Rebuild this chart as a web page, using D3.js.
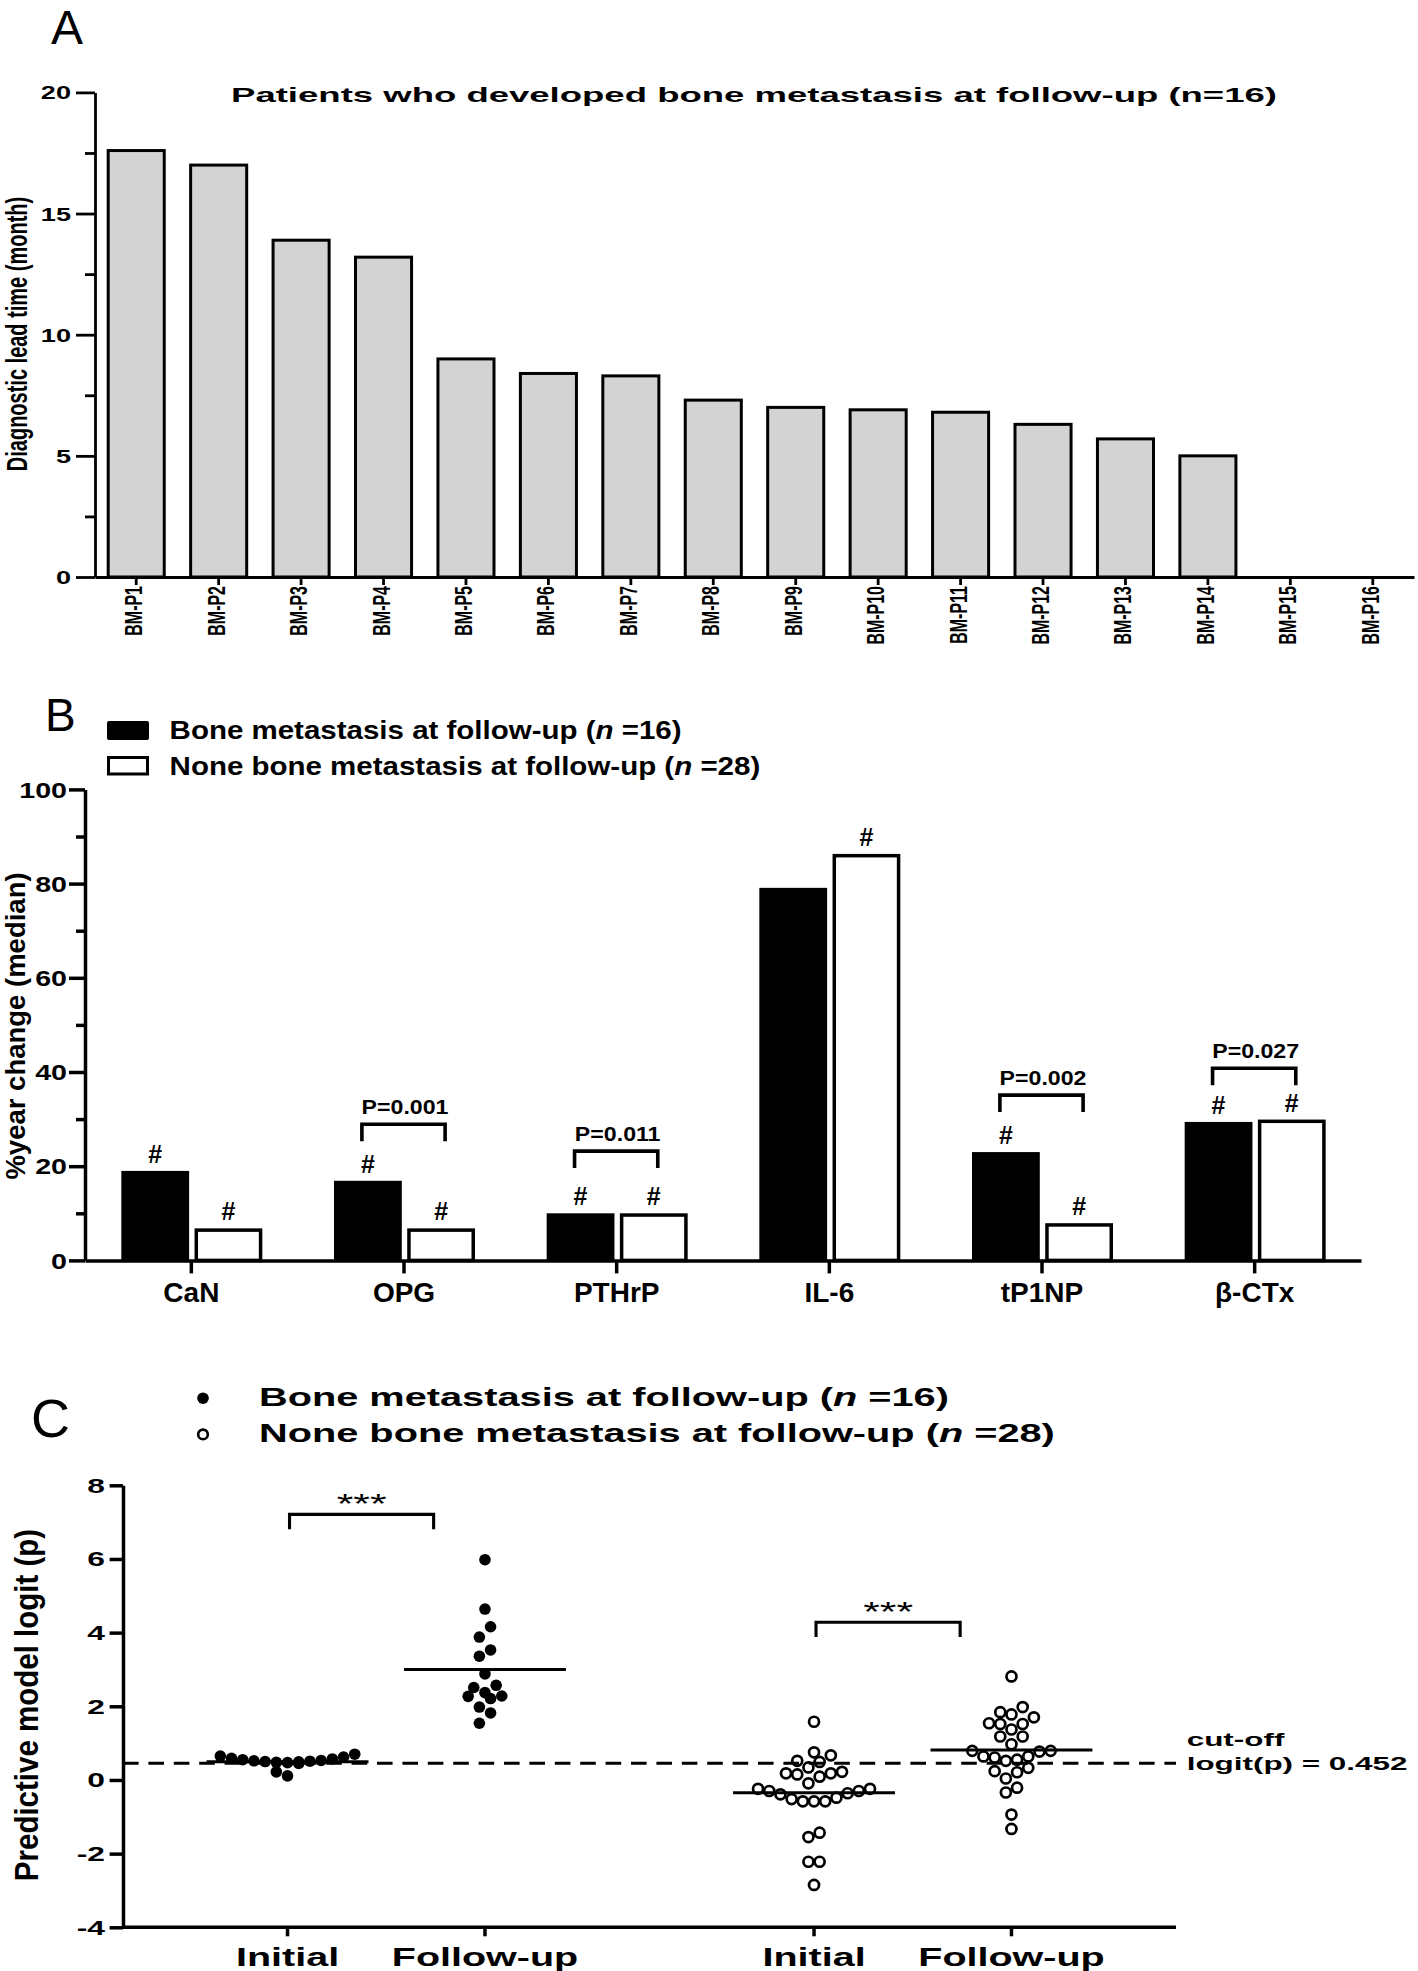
<!DOCTYPE html>
<html>
<head>
<meta charset="utf-8">
<script src="https://cdn.jsdelivr.net/npm/d3@7"></script>
<style>
  body { margin: 0; background: #fff; }
  svg { display: block; background: #fff; }
  text { font-family: 'Liberation Sans', Arial, Helvetica, sans-serif; fill: #000; }
</style>
</head>
<body>
<svg id="fig" width="1418" height="1971"></svg>
<script>
// ---- panel A: diagnostic lead time per patient
const patients = ['BM-P1','BM-P2','BM-P3','BM-P4','BM-P5','BM-P6','BM-P7','BM-P8',
                  'BM-P9','BM-P10','BM-P11','BM-P12','BM-P13','BM-P14','BM-P15','BM-P16']
const leadTime = [17.6, 17.0, 13.9, 13.2, 9.0, 8.4, 8.3, 7.3, 7.0, 6.9, 6.8, 6.3, 5.7, 5.0, 0, 0]
const leadTicks = [0, 5, 10, 15, 20]

// ---- panel B: %year change (median)
const markers = ['CaN', 'OPG', 'PTHrP', 'IL-6', 'tP1NP', 'β-CTx']
const bmChange = [19.0, 16.9, 10.0, 79.1, 23.0, 29.4]
const nbmChange = [6.8, 6.8, 10.0, 86.3, 7.9, 29.9]
const bmHash = [true, true, true, false, true, true]
const nbmHash = [true, true, true, true, true, true]
const pLabels = [null, 'P=0.001', 'P=0.011', null, 'P=0.002', 'P=0.027']
const pBracket = [null, 28.9, 23.2, null, 35.1, 40.8]
const changeTicks = [0, 20, 40, 60, 80, 100]

// ---- panel C: predictive model logit(p)
const groups = ['bm', 'nbm']
const phases = ['Initial', 'Follow-up']
const bmInitial = [0.11, 0.22, 0.45, 0.47, 0.48, 0.49, 0.50, 0.51, 0.52, 0.53, 0.55, 0.57, 0.59, 0.62, 0.65, 0.70]
const bmFollow = [5.98, 4.64, 4.16, 3.88, 3.53, 3.36, 2.88, 2.57, 2.51, 2.37, 2.28, 2.27, 2.21, 1.98, 1.82, 1.54]
const nbmInitial = [1.58, 0.75, 0.67, 0.52, 0.49, 0.34, 0.22, 0.18, 0.18, 0.15, 0.09, -0.09, -0.24, -0.24,
                    -0.30, -0.30, -0.36, -0.39, -0.48, -0.52, -0.58, -0.58, -0.58, -1.43, -1.55, -2.22, -2.22, -2.85]
const nbmFollow = [2.81, 1.98, 1.84, 1.78, 1.70, 1.54, 1.52, 1.52, 1.37, 1.18, 1.18, 0.97, 0.79, 0.79,
                   0.77, 0.64, 0.64, 0.61, 0.55, 0.52, 0.33, 0.24, 0.21, 0.04, -0.21, -0.34, -0.94, -1.33]
const sigTop = [7.21, 4.28]
const sigLabel = ['***', '***']
const cutoff = 0.452
const logitTicks = [-4, -2, 0, 2, 4, 6, 8]

const svg = d3.select('#fig')

let styleAxis = (g, w) => {
    g.select('.domain').attr('stroke', '#000').attr('stroke-width', w)
    g.selectAll('.tick line').attr('stroke', '#000').attr('stroke-width', w)
}

let stretchTicks = (g, size, k, dx) => {
    g.selectAll('.tick text')
        .attr('x', 0).attr('dy', '0.35em')
        .attr('transform', `translate(${dx},0) scale(${k},1)`)
        .style('font-size', size + 'px').style('font-weight', 'bold')
}

let legendText = (x, y, size, k, label, n) => {
    let t = svg.append('text')
        .attr('transform', `translate(${x},${y}) scale(${k},1)`)
        .style('font-size', size + 'px').style('font-weight', 'bold')
    t.append('tspan').text(label + ' (')
    t.append('tspan').style('font-style', 'italic').text('n')
    t.append('tspan').text(' =' + n + ')')
}

// =========================== A ===========================
let xA = d3.scaleBand().domain(patients).range([95, 1414]).paddingInner(0.32).paddingOuter(0.16)
let yA = d3.scaleLinear().domain([0, 20]).range([577, 92.4])

svg.append('text').attr('x', 51).attr('y', 44).style('font-size', '48px').text('A')

svg.append('g').selectAll('rect')
    .data(leadTime.map((v, i) => ({p: patients[i], v})).filter(d => d.v > 0))
    .enter().append('rect')
    .attr('x', d => xA(d.p)).attr('width', xA.bandwidth())
    .attr('y', d => yA(d.v)).attr('height', d => yA(0) - yA(d.v))
    .attr('fill', '#d3d3d3').attr('stroke', '#000').attr('stroke-width', 3)

let axA = svg.append('g').attr('transform', 'translate(95,0)')
    .call(d3.axisLeft(yA).tickValues(leadTicks).tickSize(19).tickSizeOuter(0))
styleAxis(axA, 2.8)
stretchTicks(axA, 18.7, 1.45, -24)

let axAm = svg.append('g').attr('transform', 'translate(95,0)')
    .call(d3.axisLeft(yA).tickValues(d3.range(2.5, 20, 5)).tickSize(10).tickFormat(''))
axAm.select('.domain').remove()
styleAxis(axAm, 2.8)

let axAx = svg.append('g').attr('transform', 'translate(0,' + yA(0) + ')')
    .call(d3.axisBottom(xA).tickSize(8).tickSizeOuter(0).tickFormat(''))
styleAxis(axAx, 2.8)

svg.append('g').selectAll('text')
    .data(patients).enter().append('text')
    .attr('transform', d => `translate(${xA(d) + xA.bandwidth() / 2 + 6},${yA(0) + 9}) scale(1.45,1) rotate(-90)`)
    .attr('text-anchor', 'end')
    .style('font-size', '16px').style('font-weight', 'bold')
    .text(d => d)

svg.append('text')
    .attr('transform', 'translate(27,334) scale(1.5,1) rotate(-90)')
    .attr('text-anchor', 'middle').style('font-size', '20px').style('font-weight', 'bold')
    .text('Diagnostic lead time (month)')

let titleA = svg.append('text')
    .attr('text-anchor', 'middle').style('font-size', '20.5px').style('font-weight', 'bold')
    .text('Patients who developed bone metastasis at follow-up (n=16)')
let kt = 1046 / titleA.node().getComputedTextLength()
titleA.attr('transform', `translate(754,101.8) scale(${kt},1)`)

// =========================== B ===========================
let xB = d3.scaleBand().domain(markers).range([85, 1361])
let xBi = d3.scaleBand().domain(groups).range([-70, 71]).paddingInner(0.074)
let yB = d3.scaleLinear().domain([0, 100]).range([1260.4, 789.4])
let cB = m => xB(m) + xB.bandwidth() / 2

svg.append('text').attr('x', 45).attr('y', 731).style('font-size', '46px').text('B')

svg.append('rect').attr('x', 107).attr('y', 721).attr('width', 42).attr('height', 19).attr('rx', 2).attr('fill', '#000')
svg.append('rect').attr('x', 108.5).attr('y', 757.5).attr('width', 39).attr('height', 16.5)
    .attr('fill', '#fff').attr('stroke', '#000').attr('stroke-width', 3)
legendText(169.6, 739.4, 25, 1.18, 'Bone metastasis at follow-up', 16)
legendText(169.6, 775, 25, 1.18, 'None bone metastasis at follow-up', 28)

let bData = markers.map((m, i) => ({m, bm: bmChange[i], nbm: nbmChange[i], hb: bmHash[i], hn: nbmHash[i], p: pLabels[i], top: pBracket[i]}))

let gB = svg.append('g')
gB.selectAll('rect.bm').data(bData).enter().append('rect')
    .attr('x', d => cB(d.m) + xBi('bm')).attr('width', xBi.bandwidth())
    .attr('y', d => yB(d.bm)).attr('height', d => yB(0) - yB(d.bm))
    .attr('fill', '#000')
gB.selectAll('rect.nbm').data(bData).enter().append('rect')
    .attr('x', d => cB(d.m) + xBi('nbm') + 1.75).attr('width', xBi.bandwidth() - 3.5)
    .attr('y', d => yB(d.nbm) + 1.75).attr('height', d => yB(0) - yB(d.nbm) - 1.75)
    .attr('fill', '#fff').attr('stroke', '#000').attr('stroke-width', 3.5)

gB.selectAll('text.hb').data(bData.filter(d => d.hb)).enter().append('text')
    .attr('x', d => cB(d.m) + xBi('bm') + xBi.bandwidth() / 2).attr('y', d => yB(d.bm) - 8)
    .attr('text-anchor', 'middle').style('font-size', '25px').style('font-weight', 'bold').text('#')
gB.selectAll('text.hn').data(bData.filter(d => d.hn)).enter().append('text')
    .attr('x', d => cB(d.m) + xBi('nbm') + xBi.bandwidth() / 2).attr('y', d => yB(d.nbm) - 8)
    .attr('text-anchor', 'middle').style('font-size', '25px').style('font-weight', 'bold').text('#')

let sigB = bData.filter(d => d.p)
gB.selectAll('path.br').data(sigB).enter().append('path')
    .attr('d', d => {
        let x1 = cB(d.m) + xBi('bm') + xBi.bandwidth() / 2 - 6
        let x2 = cB(d.m) + xBi('nbm') + xBi.bandwidth() / 2 + 4
        return `M${x1},${yB(d.top - 3.6)}V${yB(d.top)}H${x2}V${yB(d.top - 3.6)}`
    })
    .attr('fill', 'none').attr('stroke', '#000').attr('stroke-width', 3.6)
gB.selectAll('text.pv').data(sigB).enter().append('text')
    .attr('transform', d => `translate(${cB(d.m) + 1},${yB(d.top + 2.1)}) scale(1.13,1)`)
    .attr('text-anchor', 'middle').style('font-size', '20.5px').style('font-weight', 'bold')
    .text(d => d.p)

let axB = svg.append('g').attr('transform', 'translate(85,0)')
    .call(d3.axisLeft(yB).tickValues(changeTicks).tickSize(16).tickSizeOuter(0))
styleAxis(axB, 3.5)
stretchTicks(axB, 22, 1.3, -18)
let axBm = svg.append('g').attr('transform', 'translate(85,0)')
    .call(d3.axisLeft(yB).tickValues(d3.range(10, 100, 20)).tickSize(9).tickFormat(''))
axBm.select('.domain').remove()
styleAxis(axBm, 3.5)

let axBx = svg.append('g').attr('transform', 'translate(0,' + yB(0) + ')')
    .call(d3.axisBottom(xB).tickSize(13).tickSizeOuter(0))
styleAxis(axBx, 3.5)
axBx.selectAll('.tick text').attr('y', 42).attr('dy', null)
    .style('font-size', '28px').style('font-weight', 'bold')

svg.append('text')
    .attr('transform', 'translate(25,1026) rotate(-90)')
    .attr('text-anchor', 'middle').style('font-size', '27.5px').style('font-weight', 'bold')
    .text('%year change (median)')

// =========================== C ===========================
let xCo = d3.scaleBand().domain(groups).range([123, 1176]).paddingInner(0.25).paddingOuter(0.125)
let xCi = d3.scalePoint().domain(phases).range([0, xCo.bandwidth()]).padding(0.5)
let xC = (g, p) => xCo(g) + xCi(p)
let yC = d3.scaleLinear().domain([-4, 8]).range([1927.3, 1485.3])
let slotW = 11.2
let halfMean = 0.41 * xCi.step()

svg.append('text').attr('x', 31).attr('y', 1437).style('font-size', '54px').text('C')

svg.append('circle').attr('cx', 203).attr('cy', 1398.2).attr('r', 5.8).attr('fill', '#000')
svg.append('circle').attr('cx', 203).attr('cy', 1434.4).attr('r', 4.8)
    .attr('fill', 'none').attr('stroke', '#000').attr('stroke-width', 2.6)
legendText(259, 1406.3, 25, 1.59, 'Bone metastasis at follow-up', 16)
legendText(259, 1442, 25, 1.59, 'None bone metastasis at follow-up', 28)

// column scatter: points with close values share a row, lowest value in the middle
let swarm = (values, rowH) => {
    let order = d3.range(values.length).sort((a, b) => values[a] - values[b])
    let rows = [], cur = []
    order.forEach(i => {
        if (cur.length && values[i] - values[cur[0]] >= rowH) { rows.push(cur); cur = [] }
        cur.push(i)
    })
    if (cur.length) rows.push(cur)
    let slot = new Array(values.length)
    rows.forEach(r => {
        let n = r.length
        r.forEach((idx, k) => {
            if (n % 2) slot[idx] = (k % 2 ? -1 : 1) * Math.ceil(k / 2)
            else slot[idx] = (k % 2 ? 1 : -1) * (Math.floor(k / 2) + 0.5)
        })
    })
    return slot
}

let columns = [
    {g: 'bm', p: 'Initial', vals: bmInitial, filled: true},
    {g: 'bm', p: 'Follow-up', vals: bmFollow, filled: true},
    {g: 'nbm', p: 'Initial', vals: nbmInitial, filled: false},
    {g: 'nbm', p: 'Follow-up', vals: nbmFollow, filled: false}
]

svg.append('line')
    .attr('x1', 123).attr('x2', 1176).attr('y1', yC(cutoff)).attr('y2', yC(cutoff))
    .attr('stroke', '#000').attr('stroke-width', 3).attr('stroke-dasharray', '15.6,9.8')

let gC = svg.append('g')
columns.forEach(col => {
    let xc = xC(col.g, col.p)
    let slots = swarm(col.vals, 0.35)
    let pts = col.vals.map((v, i) => ({v, s: slots[i]}))
    let sel = gC.append('g').selectAll('circle').data(pts).enter().append('circle')
        .attr('cx', d => xc + d.s * slotW).attr('cy', d => yC(d.v))
    if (col.filled) sel.attr('r', 5.8).attr('fill', '#000')
    else sel.attr('r', 5).attr('fill', 'none').attr('stroke', '#000').attr('stroke-width', 2.7)
    let m = d3.mean(col.vals)
    gC.append('line')
        .attr('x1', xc - halfMean).attr('x2', xc + halfMean)
        .attr('y1', yC(m)).attr('y2', yC(m))
        .attr('stroke', '#000').attr('stroke-width', 3)
})

groups.forEach((g, i) => {
    let x1 = xC(g, 'Initial') + 2
    let x2 = xC(g, 'Initial') + 0.74 * (xC(g, 'Follow-up') - xC(g, 'Initial'))
    let top = yC(sigTop[i]), bot = yC(sigTop[i] - 0.4)
    gC.append('path')
        .attr('d', `M${x1},${bot}V${top}H${x2}V${bot}`)
        .attr('fill', 'none').attr('stroke', '#000').attr('stroke-width', 3.1)
    gC.append('text')
        .attr('transform', `translate(${(x1 + x2) / 2},${top - 1}) scale(1.58,1)`)
        .attr('text-anchor', 'middle').style('font-size', '27px')
        .text(sigLabel[i])
})

let cutText = svg.append('g').attr('transform', 'translate(1186.7,0)')
cutText.append('text').attr('transform', 'translate(0,1745.6) scale(1.68,1)')
    .style('font-size', '18.7px').style('font-weight', 'bold').text('cut-off')
cutText.append('text').attr('transform', 'translate(0,1770) scale(1.68,1)')
    .style('font-size', '18.7px').style('font-weight', 'bold').text('logit(p) = 0.452')

let axC = svg.append('g').attr('transform', 'translate(123,0)')
    .call(d3.axisLeft(yC).tickValues(logitTicks).tickSize(13.4).tickSizeOuter(0).tickFormat(d => String(d)))
styleAxis(axC, 3.5)
stretchTicks(axC, 20, 1.59, -18)

svg.append('line')
    .attr('x1', 123).attr('x2', 1176).attr('y1', yC(-4)).attr('y2', yC(-4))
    .attr('stroke', '#000').attr('stroke-width', 3.5)
columns.forEach(col => {
    let xc = xC(col.g, col.p)
    svg.append('line').attr('x1', xc).attr('x2', xc).attr('y1', yC(-4)).attr('y2', yC(-4) + 9)
        .attr('stroke', '#000').attr('stroke-width', 3.5)
    svg.append('text')
        .attr('transform', `translate(${xc},1966) scale(1.58,1)`)
        .attr('text-anchor', 'middle').style('font-size', '25px').style('font-weight', 'bold')
        .text(col.p)
})

svg.append('text')
    .attr('transform', 'translate(38,1705) scale(1.12,1) rotate(-90)')
    .attr('text-anchor', 'middle').style('font-size', '29.5px').style('font-weight', 'bold')
    .text('Predictive model logit (p)')
</script>
</body>
</html>
